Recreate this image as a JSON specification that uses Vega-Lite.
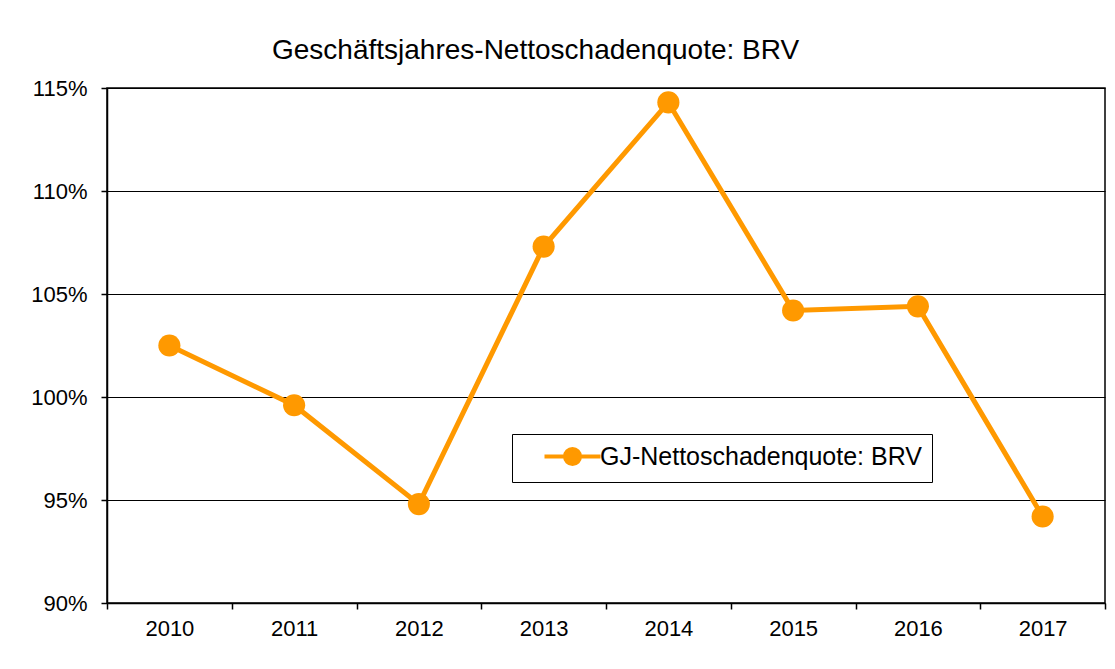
{
  "$schema": "https://vega.github.io/schema/vega-lite/v6.json",
  "width": 998,
  "height": 515,
  "autosize": {"type": "none"},
  "padding": {"left": 107, "top": 88, "right": 10, "bottom": 66},
  "background": "white",
  "title": {
    "text": "Geschäftsjahres-Nettoschadenquote: BRV",
    "anchor": "start",
    "frame": "group",
    "dx": 165,
    "dy": 38,
    "offset": 28,
    "baseline": "alphabetic",
    "font": "Liberation Sans",
    "fontSize": 28,
    "fontWeight": "normal",
    "color": "#000000"
  },
  "data": {
    "values": [
      {"year": "2010", "quote": 102.5, "series": "GJ-Nettoschadenquote: BRV"},
      {"year": "2011", "quote": 99.6, "series": "GJ-Nettoschadenquote: BRV"},
      {"year": "2012", "quote": 94.8, "series": "GJ-Nettoschadenquote: BRV"},
      {"year": "2013", "quote": 107.3, "series": "GJ-Nettoschadenquote: BRV"},
      {"year": "2014", "quote": 114.3, "series": "GJ-Nettoschadenquote: BRV"},
      {"year": "2015", "quote": 104.2, "series": "GJ-Nettoschadenquote: BRV"},
      {"year": "2016", "quote": 104.4, "series": "GJ-Nettoschadenquote: BRV"},
      {"year": "2017", "quote": 94.2, "series": "GJ-Nettoschadenquote: BRV"}
    ]
  },
  "encoding": {
    "x": {
      "field": "year",
      "type": "ordinal",
      "scale": {"type": "band", "paddingInner": 0, "paddingOuter": 0},
      "axis": {
        "title": null,
        "labelAngle": 0,
        "tickBand": "extent",
        "grid": false,
        "domainColor": "#000000",
        "domainWidth": 1.5,
        "tickColor": "#000000",
        "tickSize": 6,
        "tickWidth": 1.5,
        "labelFont": "Liberation Sans",
        "labelFontSize": 22,
        "labelColor": "#000000",
        "labelPadding": 9
      }
    },
    "y": {
      "field": "quote",
      "type": "quantitative",
      "scale": {"domain": [90, 115], "nice": false, "zero": false},
      "axis": {
        "title": null,
        "values": [90, 95, 100, 105, 110, 115],
        "labelExpr": "datum.value + '%'",
        "grid": true,
        "gridColor": "#000000",
        "gridWidth": 1.2,
        "gridOpacity": 1,
        "domainColor": "#000000",
        "domainWidth": 1.5,
        "tickColor": "#000000",
        "tickSize": 6,
        "tickWidth": 1.5,
        "labelFont": "Liberation Sans",
        "labelFontSize": 22,
        "labelColor": "#000000",
        "labelPadding": 14
      }
    },
    "color": {
      "field": "series",
      "type": "nominal",
      "scale": {"range": ["#FF9900"]},
      "legend": {
        "title": null,
        "orient": "none",
        "legendX": 405,
        "legendY": 346,
        "strokeColor": "#000000",
        "fillColor": "#FFFFFF",
        "padding": 10,
        "labelFont": "Liberation Sans",
        "labelFontSize": 25,
        "labelColor": "#000000",
        "labelLimit": 0,
        "labelOffset": 15,
        "symbolOffset": 38,
        "encode": {
          "symbols": {
            "update": {
              "shape": {"value": "M-2.8,0L2.8,0M0.75,0A0.75,0.75 0 1,1 -0.75,0A0.75,0.75 0 1,1 0.75,0Z"},
              "size": {"value": 400},
              "fill": {"value": "#FF9900"},
              "stroke": {"value": "#FF9900"},
              "strokeWidth": {"value": 4},
              "opacity": {"value": 1}
            }
          }
        }
      }
    }
  },
  "layer": [
    {"mark": {"type": "line", "strokeWidth": 5}},
    {"mark": {"type": "point", "filled": true, "opacity": 1, "size": 490, "shape": "circle"}}
  ],
  "config": {
    "view": {"stroke": "#000000", "strokeWidth": 1.5}
  }
}
